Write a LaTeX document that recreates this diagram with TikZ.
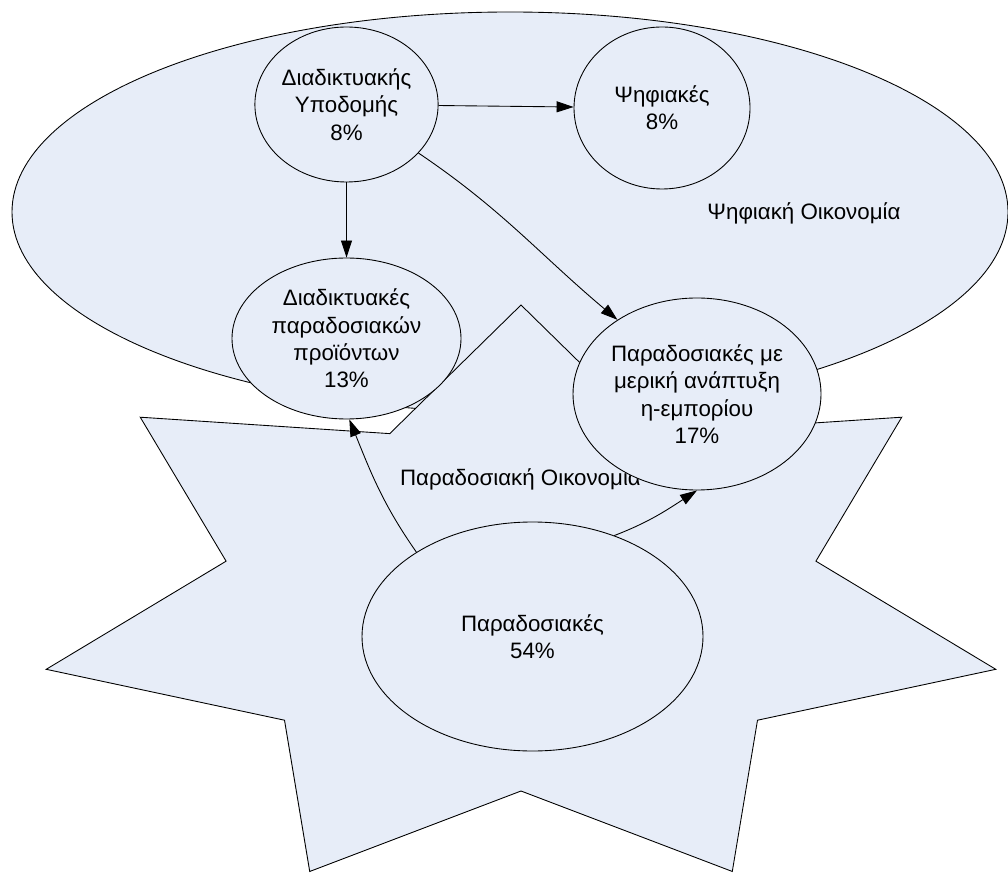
\documentclass[tikz,border=0pt]{standalone}
\usepackage{fontspec}
\setmainfont{Liberation Sans}
\usepackage{xcolor}
\usepackage{tikz}
\usetikzlibrary{shapes.geometric,arrows.meta}

\definecolor{ecofill}{RGB}{231,237,248}

\begin{document}
\begin{tikzpicture}[
    region/.style={draw, line width=0.5pt, fill=ecofill},
    bubble/.style={ellipse, draw, line width=0.5pt, fill=ecofill, align=center, inner sep=0pt},
    flow/.style={-{Triangle[length=0.34cm, width=0.22cm]}, line width=0.5pt},
    every node/.style={font=\fontsize{12.7}{15.6}\selectfont}
]
    \useasboundingbox (0,0) rectangle (20.16,17.46);

    % Digital economy
    \draw[region] (10.2,13.22) ellipse (9.96 and 4.0);

    % Traditional economy (7-point star)
    \draw[region, shift={(10.42,5.40)}] (90:9.74 and 5.96)
        \foreach \k in {0,...,6} {
            -- ({90+\k*360/7+180/7}:6.05 and 3.76)
            -- ({90+(\k+1)*360/7}:9.74 and 5.96)
        } -- cycle;

    % Region labels
    \node (digitaleco) at (16.08,13.2) {Ψηφιακή Οικονομία};
    \node (tradeco) at (10.41,7.88) {Παραδοσιακή Οικονομία};

    % Sectors
    \node[bubble, minimum width=3.42cm, minimum height=3.1cm] (infra) at (6.93,15.37)
        {Διαδικτυακής\\Υποδομής\\8\%};
    \node[bubble, minimum width=3.52cm, minimum height=3.24cm] (digital) at (13.24,15.30)
        {Ψηφιακές\\8\%};
    \node[bubble, minimum width=4.58cm, minimum height=3.22cm] (online) at (6.93,10.69)
        {Διαδικτυακές\\παραδοσιακών\\προϊόντων\\13\%};
    \node[bubble, minimum width=4.96cm, minimum height=3.84cm] (partial) at (13.94,9.58)
        {Παραδοσιακές με\\μερική ανάπτυξη\\η-εμπορίου\\17\%};
    \node[bubble, minimum width=6.82cm, minimum height=4.58cm] (trad) at (10.65,4.73)
        {Παραδοσιακές\\54\%};

    % Arrows
    \draw[flow] (infra) -- (digital);
    \draw[flow] (infra) -- (online);
    \draw[flow] (infra.-34) to[out=-34, in=140] (partial.137);
    \draw[flow] (trad.144) to[out=125, in=292] (online.272);
    \draw[flow] (trad.51) to[out=21, in=213] (partial.270);

\end{tikzpicture}
\end{document}
